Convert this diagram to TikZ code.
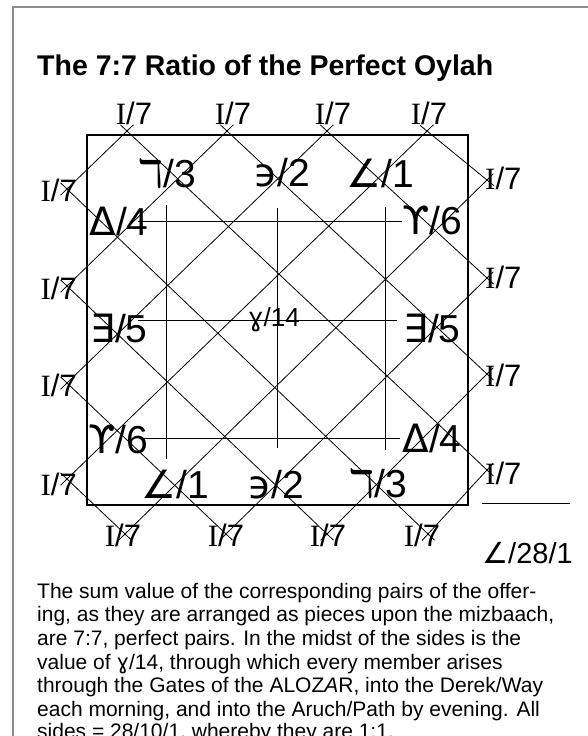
\documentclass[tikz,border=0pt]{standalone}
\usepackage{fontspec}
\setmainfont{Liberation Sans}
\newfontfamily\symf{DejaVu Sans}
\newfontfamily\serf{Liberation Serif}
\newcommand\Isev{{\serf I}/7}
\newcommand\gThree{{\symf ℸ}}
\newcommand\gTwo{{\symf ϶}}
\newcommand\gOne{{\symf ∠}}
\newcommand\gFour{{\symf Δ}}
\newcommand\gFive{{\symf ∃}}
\newcommand\gSix{{\symf ϒ}}
\newcommand\gFourteen{{\symf ɣ}}
\begin{document}
\begin{tikzpicture}[x=1pt,y=-1pt,
  diag/.style={line width=0.8pt, shorten <=-9pt, shorten >=-9pt},
  gridln/.style={line width=0.8pt},
  sev/.style={inner sep=0pt, font=\fontsize{31}{31}\selectfont},
  bigl/.style={inner sep=0pt, font=\fontsize{39}{39}\selectfont},
  capl/.style={inner sep=0pt, anchor=base west, font=\fontsize{21}{24}\selectfont}]
\useasboundingbox (0,0) rectangle (587,736);
% frame
\draw[line width=2pt, color=black!45] (13,760) -- (13,7) -- (600,7);
% title
\node[inner sep=0pt, anchor=base west, font=\fontsize{28.5}{30}\selectfont\bfseries] (title) at (37,75) {The 7:7 Ratio of the Perfect Oylah};
% square
\node[draw, line width=2.4pt, minimum width=381, minimum height=370, inner sep=0pt] (sq) at (277.5,320) {};
% crossing points
\coordinate (T1) at (127,131); \coordinate (T2) at (227,131);
\coordinate (T3) at (327,131); \coordinate (T4) at (427,131);
\coordinate (L1) at (67,189); \coordinate (L2) at (67,286);
\coordinate (L3) at (67,383); \coordinate (L4) at (67,479);
\coordinate (R1) at (487,180); \coordinate (R2) at (487,278);
\coordinate (R3) at (487,374); \coordinate (R4) at (487,470);
\coordinate (B1) at (125,534); \coordinate (B2) at (226,534);
\coordinate (B3) at (327,534); \coordinate (B4) at (428,534);
% diagonals
\draw[diag] (T1) -- (L1); \draw[diag] (T2) -- (L2);
\draw[diag] (T3) -- (L3); \draw[diag] (T4) -- (L4);
\draw[diag] (T1) -- (R4); \draw[diag] (T2) -- (R3);
\draw[diag] (T3) -- (R2); \draw[diag] (T4) -- (R1);
\draw[diag] (L1) -- (B4); \draw[diag] (L2) -- (B3);
\draw[diag] (L3) -- (B2); \draw[diag] (L4) -- (B1);
\draw[diag] (R1) -- (B1); \draw[diag] (R2) -- (B2);
\draw[diag] (R3) -- (B3); \draw[diag] (R4) -- (B4);
% inner grid
\coordinate (h1a) at (138,221); \coordinate (h1b) at (402,221);
\coordinate (h2a) at (138,320); \coordinate (h2b) at (397,320);
\coordinate (h3a) at (143,438); \coordinate (h3b) at (400,438);
\coordinate (v1a) at (166,205); \coordinate (v1b) at (166,459);
\coordinate (v2a) at (277,208); \coordinate (v2b) at (277,448);
\coordinate (v3a) at (385,207); \coordinate (v3b) at (385,450);
\draw[gridln] (h1a) -- (h1b); \draw[gridln] (h2a) -- (h2b);
\draw[gridln] (h3a) -- (h3b);
\draw[gridln] (v1a) -- (v1b); \draw[gridln] (v2a) -- (v2b);
\draw[gridln] (v3a) -- (v3b);
% outer I/7 labels
\node[sev, anchor=base] (t1) at (134,124) {\Isev};
\node[sev, anchor=base] (t2) at (233,124) {\Isev};
\node[sev, anchor=base] (t3) at (333,124) {\Isev};
\node[sev, anchor=base] (t4) at (429,124) {\Isev};
\node[sev, anchor=base] (b1) at (123,546) {\Isev};
\node[sev, anchor=base] (b2) at (226,546) {\Isev};
\node[sev, anchor=base] (b3) at (328,546) {\Isev};
\node[sev, anchor=base] (b4) at (422,546) {\Isev};
\node[sev, anchor=base east] (l1) at (77,201) {\Isev};
\node[sev, anchor=base east] (l2) at (77,299) {\Isev};
\node[sev, anchor=base east] (l3) at (77,396) {\Isev};
\node[sev, anchor=base east] (l4) at (77,495) {\Isev};
\node[sev, anchor=base west] (r1) at (485,189) {\Isev};
\node[sev, anchor=base west] (r2) at (485,288) {\Isev};
\node[sev, anchor=base west] (r3) at (485,386) {\Isev};
\node[sev, anchor=base west] (r4) at (485,484) {\Isev};
% inner labels
\node[bigl] (n3a) at (167,174) {\gThree/3};
\node[bigl] (n2a) at (282,173) {\gTwo/2};
\node[bigl] (n1a) at (380,173) {\gOne/1};
\node[bigl] (n4a) at (119,221) {\gFour/4};
\node[bigl] (n6a) at (432,220) {\gSix/6};
\node[bigl] (n5a) at (119,328) {\gFive/5};
\node[bigl] (n5b) at (432,328) {\gFive/5};
\node[inner sep=0pt, font=\fontsize{26}{26}\selectfont] (n14) at (274,320) {\gFourteen/14};
\node[bigl] (n6b) at (118,439) {\gSix/6};
\node[bigl] (n4b) at (432,438) {\gFour/4};
\node[bigl] (n1b) at (175,484) {\gOne/1};
\node[bigl] (n2b) at (276,485) {\gTwo/2};
\node[bigl] (n3b) at (378,484) {\gThree/3};
% total
\coordinate (tla) at (482,504); \coordinate (tlb) at (570,504);
\draw[double, double distance=1pt, line width=0.9pt] (tla) -- (tlb);
\node[inner sep=0pt, anchor=base west, font=\fontsize{29}{29}\selectfont] (tot) at (482,563) {\gOne/28/1};
% caption
\node[capl] (c1) at (37,598) {The sum value of the corresponding pairs of the offer-};
\node[capl] (c2) at (37,621.7) {ing, as they are arranged as pieces upon the mizbaach,};
\node[capl] (c3) at (37,645.3) {are 7:7, perfect pairs. In the midst of the sides is the};
\node[capl] (c4) at (37,669) {value of \gFourteen/14, through which every member arises};
\node[capl] (c5) at (37,692.7) {through the Gates of the ALOZ\textit{A}R, into the Derek/Way};
\node[capl] (c6) at (37,716.3) {each morning, and into the Aruch/Path by evening. All};
\node[capl] (c7) at (37,738) {sides = 28/10/1, whereby they are 1:1.};
\end{tikzpicture}
\end{document}
